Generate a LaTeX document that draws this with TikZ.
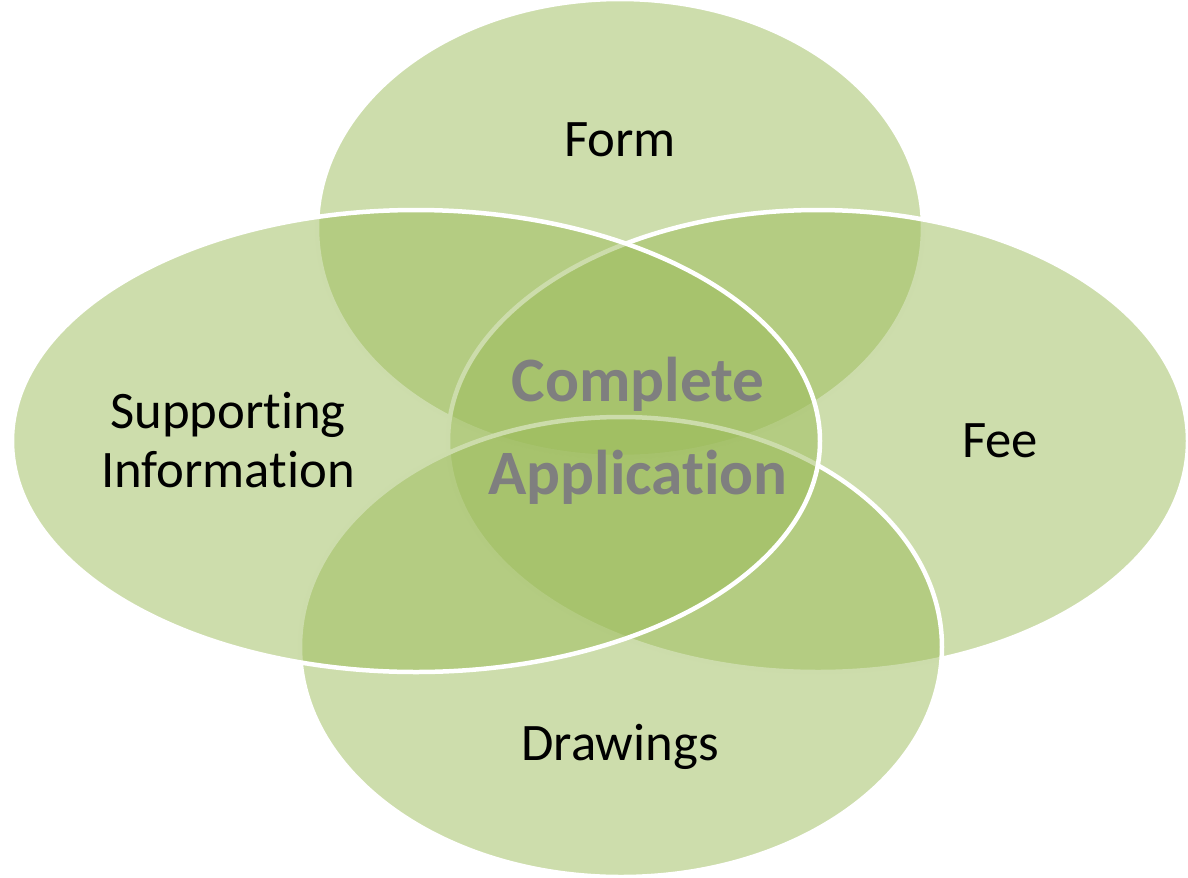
\documentclass[tikz,border=0pt]{standalone}
\usepackage{fontspec}
\setmainfont{Carlito}[Ligatures=NoCommon]
\definecolor{leaf}{HTML}{9BBB59}
\definecolor{ink}{HTML}{7F7F7F}

\begin{document}
\begin{tikzpicture}[x=0.02cm,y=-0.02cm,
  petal/.style={fill=leaf,fill opacity=0.5,draw=white,line width=0.09cm},
  part/.style={font=\fontsize{30}{33.5}\selectfont,align=center,text=black},
  whole/.style={font=\fontsize{36}{52.7}\selectfont\bfseries,align=center,text=ink}]
\useasboundingbox (0,0) rectangle (1188,877);
\draw[petal] (620,228) ellipse [x radius=303, y radius=229];
\draw[petal] (818,441) ellipse [x radius=370, y radius=231];
\draw[petal] (621,647) ellipse [x radius=321, y radius=230];
\draw[petal] (416,441) ellipse [x radius=404, y radius=231];
\node[part,anchor=base] (form) at (620,156) {Form};
\node[part,anchor=base] (fee) at (1000,457) {Fee};
\node[part,anchor=base] (drawings) at (620,760) {Drawings};
\node[part] (support) at (228,440) {Supporting\\Information};
\node[whole] (complete) at (638,431) {Complete\\Application};
\end{tikzpicture}
\end{document}
